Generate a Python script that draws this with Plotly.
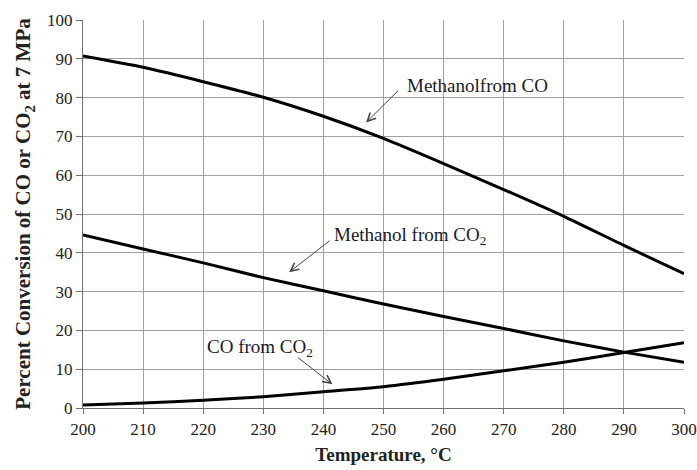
import plotly.graph_objects as go

temperature = [200, 210, 220, 230, 240, 250, 260, 270, 280, 290, 300]
methanol_from_co = [90.7, 87.8, 84.1, 80.1, 75.2, 69.5, 63.0, 56.3, 49.4, 41.9, 34.6]
methanol_from_co2 = [44.6, 41.0, 37.4, 33.6, 30.2, 26.8, 23.6, 20.5, 17.3, 14.4, 11.8]
co_from_co2 = [0.8, 1.3, 2.0, 2.9, 4.2, 5.5, 7.4, 9.6, 11.8, 14.3, 16.8]

x_ticks = [200, 210, 220, 230, 240, 250, 260, 270, 280, 290, 300]
y_ticks = [0, 10, 20, 30, 40, 50, 60, 70, 80, 90, 100]

FONT = "Liberation Serif, Times New Roman, serif"
TXT = "#1a1a2a"

fig = go.Figure()
for ys in (methanol_from_co, methanol_from_co2, co_from_co2):
    fig.add_trace(go.Scatter(x=temperature, y=ys, mode="lines",
                             line=dict(color="black", width=3, shape="spline", smoothing=0.6),
                             showlegend=False, hoverinfo="skip"))

labels = [
    dict(text="Methanolfrom CO", tx=253.5, ty=83.0, hx=247.1, hy=73.6, ax=252.7, ay=82.2),
    dict(text="Methanol from CO<sub>2</sub>", tx=241.5, ty=44.4, hx=234.3, hy=35.0, ax=241.3, ay=43.4),
    dict(text="CO from CO<sub>2</sub>", tx=220.3, ty=15.5, hx=241.5, hy=6.1, ax=235.5, ay=13.3),
]
for lb in labels:
    fig.add_annotation(x=lb["tx"], y=lb["ty"], xref="x", yref="y", text=lb["text"],
                       showarrow=False, xanchor="left", yanchor="middle",
                       font=dict(family=FONT, size=19, color=TXT))
    fig.add_annotation(x=lb["hx"], y=lb["hy"], ax=lb["ax"], ay=lb["ay"],
                       xref="x", yref="y", axref="x", ayref="y", text="",
                       showarrow=True, arrowhead=5, arrowsize=1.6, arrowwidth=1,
                       arrowcolor="#444", standoff=0, startstandoff=0)

fig.update_layout(
    width=697, height=470,
    margin=dict(l=83, r=13, t=20, b=62, autoexpand=False),
    paper_bgcolor="white", plot_bgcolor="white",
    font=dict(family=FONT, color="#222"),
)
fig.update_xaxes(
    range=[200, 300], tickvals=x_ticks, ticktext=[str(v) for v in x_ticks],
    showgrid=True, gridcolor="#a0a0a0", gridwidth=1,
    showline=True, linecolor="#707070", linewidth=1.2,
    ticks="outside", ticklen=5, tickcolor="#707070",
    tickfont=dict(family=FONT, size=17, color="#222"),
    title=dict(text="<b>Temperature, °C</b>", font=dict(family=FONT, size=19, color="#222"), standoff=10),
    zeroline=False, mirror=False, automargin=False,
)
fig.update_yaxes(
    range=[0, 100], tickvals=y_ticks, ticktext=[str(v) for v in y_ticks],
    showgrid=True, gridcolor="#a0a0a0", gridwidth=1,
    showline=True, linecolor="#707070", linewidth=1.2,
    ticks="outside", ticklen=6, tickcolor="#707070",
    tickfont=dict(family=FONT, size=17, color="#222"),
    title=dict(text="<b>Percent Conversion of CO or CO<sub>2</sub> at 7 MPa</b>",
               font=dict(family=FONT, size=21, color="#222"), standoff=10),
    zeroline=False, automargin=False,
)

fig.write_html("out.html")
